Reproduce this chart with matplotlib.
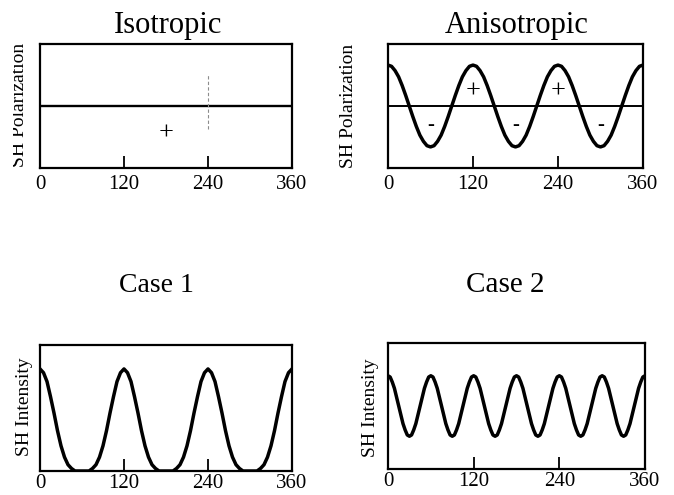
import numpy as np
import matplotlib
matplotlib.use("Agg")
import matplotlib.pyplot as plt
from matplotlib.transforms import Bbox, TransformedBbox

# Data (angle in degrees)
angle5 = np.arange(0, 361, 5)
angle3 = np.arange(0, 361, 3)

iso_level = [0.0, 0.0]
iso_x = [0, 360]

aniso_period = [0.66, 0.64, 0.57, 0.47, 0.33, 0.17, 0.00, -0.17, -0.33, -0.47, -0.57, -0.64,
                -0.66, -0.64, -0.57, -0.47, -0.33, -0.17, 0.00, 0.17, 0.33, 0.47, 0.57, 0.64]
aniso_pol = aniso_period * 3 + [0.66]

case1_period = [0.81, 0.78, 0.71, 0.59, 0.46, 0.32, 0.20, 0.11, 0.05, 0.02, 0.00, 0.00,
                0.00, 0.00, 0.00, 0.02, 0.05, 0.11, 0.20, 0.32, 0.46, 0.59, 0.71, 0.78]
case1_int = case1_period * 3 + [0.81]

case2_period = [0.74, 0.73, 0.69, 0.64, 0.57, 0.50, 0.43, 0.36, 0.31, 0.27,
                0.26, 0.27, 0.31, 0.36, 0.43, 0.50, 0.57, 0.64, 0.69, 0.73]
case2_int = case2_period * 6 + [0.74]

xticks = [0, 120, 240, 360]
aniso_plus = [120, 240]
aniso_minus = [60, 180, 300]

W, H = 674, 495
plt.rcParams['font.family'] = ['Liberation Serif', 'DejaVu Serif']
fig = plt.figure(figsize=(W / 100, H / 100), dpi=100)


def px_axes(left, right, top, bottom):
    return fig.add_axes([left / W, 1 - bottom / H, (right - left) / W, (bottom - top) / H])


def style(ax, ylim, pad):
    ax.set_xlim(0, 360)
    ax.set_ylim(*ylim)
    ax.set_xticks(xticks)
    ax.set_yticks([])
    ax.tick_params(axis='x', direction='in', length=9, width=1.3, pad=pad, labelsize=15)
    for s in ax.spines.values():
        s.set_linewidth(1.6)


ax1 = px_axes(40, 292, 44, 168)
ax2 = px_axes(388, 643, 44, 168)
ax3 = px_axes(40, 292, 345, 471)
ax4 = px_axes(388, 645, 343, 469)

style(ax1, (-1, 1), 5)
style(ax2, (-1, 1), 5)
style(ax3, (0, 1), 2)
style(ax4, (0, 1), 2)

# Isotropic
ax1.plot(iso_x, iso_level, color='black', lw=1.7)
ax1.text(180, -0.45, '+', ha='center', va='center', fontsize=19)
ax1.plot([240, 240], [-0.37, 0.52], color='0.55', lw=0.8, ls=(0, (3, 2)))

# Anisotropic
ax2.plot(iso_x, iso_level, color='black', lw=1.4)
ax2.plot(angle5, aniso_pol, color='black', lw=2.5)
for a in aniso_plus:
    ax2.text(a, 0.24, '+', ha='center', va='center', fontsize=19)
for a in aniso_minus:
    ax2.text(a, -0.32, '-', ha='center', va='center', fontsize=15)

# Case 1 and Case 2
ax3.plot(angle5, case1_int, color='black', lw=2.5)
ax4.plot(angle3, case2_int, color='black', lw=2.5)

# Titles
fig.text(168 / W, 1 - 33 / H, 'Isotropic', ha='center', va='baseline', fontsize=22)
fig.text(517 / W, 1 - 33 / H, 'Anisotropic', ha='center', va='baseline', fontsize=22)
fig.text(156 / W, 1 - 292 / H, 'Case 1', ha='center', va='baseline', fontsize=20)
fig.text(505 / W, 1 - 292 / H, 'Case 2', ha='center', va='baseline', fontsize=21)

# y labels
def ylab(x, y, s):
    return fig.text(x / W, 1 - y / H, s, rotation=90, rotation_mode='anchor',
                    ha='center', va='baseline', fontsize=14)

t = ylab(24, 105, 'SH Polarization')
t.set_clip_box(TransformedBbox(Bbox.from_extents(13 / W, 0, 1, 1), fig.transFigure))
t.set_clip_on(True)
ylab(353, 106, 'SH Polarization')
ylab(29, 407, 'SH Intensity')
ylab(375, 408, 'SH Intensity')

fig.savefig('out.png', dpi=100)
